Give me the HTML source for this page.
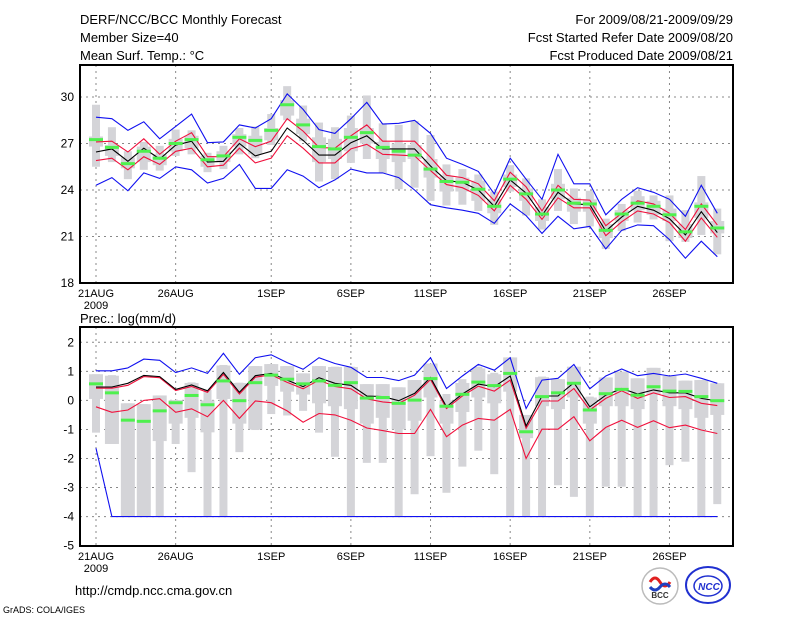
<!DOCTYPE html>
<html><head><meta charset="utf-8"><style>
body{margin:0;background:#fff;}
svg{display:block;font-family:"Liberation Sans",sans-serif;}
</style></head><body>
<svg id="chart" width="800" height="618" viewBox="0 0 800 618" xmlns="http://www.w3.org/2000/svg">
<g font-size="13" fill="#000">
<text x="80" y="24">DERF/NCC/BCC Monthly Forecast</text>
<text x="80" y="42">Member Size=40</text>
<text x="80" y="60">Mean Surf. Temp.: °C</text>
<text x="733" y="24" text-anchor="end">For 2009/08/21-2009/09/29</text>
<text x="733" y="42" text-anchor="end">Fcst Started Refer Date 2009/08/20</text>
<text x="733" y="60" text-anchor="end">Fcst Produced Date 2009/08/21</text>
<text x="80" y="323">Prec.: log(mm/d)</text>
<text x="75" y="595">http://cmdp.ncc.cma.gov.cn</text>
<text x="3" y="613" font-size="9">GrADS: COLA/IGES</text>
</g>
<g id="top"></g>
<g id="bot"></g>
<g>
<circle cx="660" cy="586" r="18" fill="#fff" stroke="#bbb" stroke-width="1.5"/>
<path d="M650 582 q5 -8 10 0 q5 8 10 0" stroke="#e02020" stroke-width="3" fill="none"/>
<path d="M650 587 q5 6 10 0 q5 -6 10 0" stroke="#2040c0" stroke-width="3" fill="none"/>
<text x="660" y="598" font-size="8" font-weight="bold" text-anchor="middle" fill="#333">BCC</text>
</g>
<g>
<ellipse cx="708" cy="585" rx="22" ry="18" fill="#fff" stroke="#2030d0" stroke-width="2"/>
<ellipse cx="708" cy="586" rx="14" ry="10" fill="none" stroke="#2030d0" stroke-width="1.5"/>
<text x="709" y="590" font-size="10" font-weight="bold" font-style="italic" text-anchor="middle" fill="#2030d0">NCC</text>
</g>
</svg>
<script>
const days = 40;
const tBlueHi=[28.7,28.6,27.85,28.4,27.3,28.1,28.9,27.05,27.1,28.2,28.0,28.6,30.2,29.2,27.9,27.65,28.6,29.65,28.25,28.3,28.5,27.65,26.05,25.65,25.2,23.75,26.05,24.7,23.4,26.3,24.4,24.4,22.4,23.4,24.15,23.85,23.4,22.3,24.3,22.5];
const tBlueLo=[24.3,24.8,23.95,25.1,24.75,25.5,25.3,24.45,24.75,25.65,24.1,24.1,25.3,24.9,24.15,24.65,25.35,25.1,25.1,24.8,24.0,23.05,22.85,22.7,22.5,21.85,23.1,22.35,21.2,22.3,21.5,21.65,20.2,21.4,21.75,21.7,20.8,19.6,20.7,19.7];
const tRedHi=[27.1,27.15,26.45,27.3,26.3,27.15,27.7,26.15,26.15,27.3,26.8,27.15,28.6,27.8,26.75,26.7,27.5,28.2,27.15,27.15,27.15,26.1,24.95,24.8,24.4,23.3,25.15,24.2,22.65,24.3,23.4,23.35,21.7,22.5,23.3,23.1,22.5,21.45,23.1,21.75];
const tRedLo=[25.9,26.05,25.3,26.15,25.65,26.5,26.7,25.5,25.6,26.7,25.75,26.05,27.5,26.7,25.75,25.75,26.65,26.95,26.3,26.25,26.2,25.25,24.35,24.15,23.65,22.65,24.3,23.4,22.1,23.5,22.85,22.85,21.05,21.95,22.65,22.45,21.9,20.7,22.2,20.95];
const tMean=[26.45,26.65,25.85,26.7,26.0,26.9,27.15,25.8,25.85,27.0,26.2,26.5,28.0,27.2,26.25,26.25,27.05,27.5,26.65,26.65,26.65,25.55,24.6,24.5,24.0,22.95,24.65,23.8,22.35,23.85,23.1,23.05,21.35,22.25,22.95,22.7,22.15,21.1,22.6,21.25];
const tGreen=[27.25,26.75,25.7,26.5,26.05,27.0,27.25,25.95,26.2,27.4,27.2,27.85,29.5,28.2,26.8,26.65,27.4,27.7,26.75,26.5,26.25,25.35,24.55,24.5,24.05,22.95,24.7,23.75,22.45,24.0,23.15,23.1,21.4,22.45,23.15,22.95,22.4,21.3,22.95,21.55];
const tOutHi=[29.5,28.05,26.5,27.1,26.85,27.9,27.85,26.4,26.85,28.0,28.1,28.9,30.7,29.45,28.35,28.05,28.8,30.1,28.3,28.2,28.45,27.55,25.65,25.35,25.0,23.9,25.6,24.75,23.4,25.35,24.1,23.95,22.15,23.1,23.95,23.65,23.65,22.7,24.9,22.8];
const tOutLo=[25.5,25.8,24.7,25.3,25.25,26.2,26.3,25.15,25.35,26.3,26.05,26.9,28.5,27.15,24.55,24.7,25.75,26.0,25.1,24.05,24.15,23.3,23.0,23.05,22.65,21.75,23.9,22.35,21.45,22.65,21.8,21.65,20.2,21.35,21.9,22.1,20.7,20.65,21.1,19.85];
const tInHi=[27.45,26.9,26.1,26.8,26.3,27.3,27.5,26.2,26.5,27.6,27.5,28.0,29.8,28.6,27.4,27.3,28.0,28.0,27.1,27.0,26.9,26.0,24.9,24.8,24.6,23.4,25.0,24.1,22.9,24.4,23.5,23.4,21.8,22.7,23.6,23.3,22.8,21.8,23.2,22.0];
const tInLo=[26.8,26.2,25.4,25.8,25.6,26.5,26.7,25.5,25.8,26.8,26.3,27.2,28.8,27.6,25.8,26.0,26.5,27.0,26.0,25.8,26.0,24.8,23.9,23.9,23.3,22.5,24.2,23.3,22.0,23.4,22.6,22.6,20.9,22.0,22.7,22.4,22.0,20.9,22.2,21.2];
const tTicks=[18,21,24,27,30];

const pBlueHi=[1.02,1.02,1.12,1.42,1.38,0.96,1.12,0.93,1.62,0.9,1.47,1.57,1.3,1.07,1.47,1.27,1.14,0.79,0.79,0.68,0.87,1.47,0.41,0.84,1.24,1.04,1.47,-0.28,0.7,0.76,1.24,0.4,0.84,1.08,0.85,0.93,0.84,0.91,0.76,0.59];
const pBlueLo=[-1.65,-4,-4,-4,-4,-4,-4,-4,-4,-4,-4,-4,-4,-4,-4,-4,-4,-4,-4,-4,-4,-4,-4,-4,-4,-4,-4,-4,-4,-4,-4,-4,-4,-4,-4,-4,-4,-4,-4,-4];
const pRedHi=[0.42,0.42,0.52,0.82,0.78,0.34,0.48,0.28,0.9,0.22,0.8,0.88,0.62,0.4,0.7,0.48,0.4,0.05,-0.05,-0.1,0.18,0.72,-0.28,0.15,0.49,0.32,0.7,-0.96,-0.02,-0.02,0.41,-0.33,0.07,0.33,0.07,0.26,0.1,0.13,-0.1,-0.18];
const pRedLo=[-0.22,-0.41,-0.33,0.0,0.06,-0.41,-0.29,-0.56,0.0,-0.62,-0.02,-0.08,-0.36,-0.75,-0.45,-0.5,-0.68,-0.95,-1.04,-1.14,-1.14,-0.31,-1.25,-0.85,-0.62,-0.68,-0.31,-2.0,-0.99,-0.99,-0.56,-1.39,-0.93,-0.68,-0.93,-0.7,-0.94,-0.85,-1.02,-1.14];
const pMean=[0.46,0.46,0.59,0.86,0.82,0.38,0.53,0.33,0.96,0.28,0.85,0.93,0.7,0.47,0.78,0.59,0.52,0.15,0.13,-0.01,0.24,0.79,-0.22,0.22,0.56,0.47,0.84,-0.88,0.15,0.15,0.61,-0.22,0.18,0.41,0.22,0.36,0.26,0.26,0.07,-0.02];
const pGreen=[0.57,0.26,-0.68,-0.72,-0.36,-0.08,0.17,-0.15,0.67,-0.01,0.61,0.87,0.73,0.57,0.67,0.52,0.61,0.08,0.1,-0.1,0.01,0.75,-0.2,0.21,0.63,0.51,0.93,-1.08,0.13,0.26,0.59,-0.33,0.23,0.38,0.18,0.47,0.32,0.31,0.13,-0.01];
const pOutHi=[0.9,0.87,-0.1,-0.13,0.17,0.01,0.62,0.36,1.22,0.61,1.18,1.25,1.18,0.93,1.18,1.16,1.16,0.56,0.56,0.45,0.7,1.27,0.22,0.73,1.16,0.95,1.48,-0.54,0.82,0.73,1.16,0.13,0.79,0.99,0.76,1.12,0.84,0.68,0.7,0.59];
const pOutLo=[-1.11,-1.5,-4,-4,-4,-1.5,-2.47,-4,-4,-1.78,-1.02,-0.47,-0.52,-0.36,-1.11,-1.94,-4,-2.15,-2.15,-4,-3.23,-1.92,-3.18,-2.28,-1.73,-2.54,-4,-4,-4,-2.92,-3.32,-4,-2.97,-2.97,-4,-4,-2.23,-2.11,-4,-3.57];
const pInHi=[0.9,0.85,-0.1,-0.13,0.17,0.01,0.6,0.0,1.2,0.6,1.18,1.25,1.18,0.93,1.18,1.15,1.15,0.56,0.56,0.45,0.7,1.27,0.0,0.6,1.1,0.9,1.48,-0.5,0.8,0.73,1.16,0.1,0.79,0.99,0.76,1.12,0.84,0.68,0.7,0.59];
const pInLo=[0.05,-1.5,-4,-4,-1.4,-0.8,-0.6,-1.1,0.05,-0.8,-1.0,0.5,0.3,0.2,-0.1,-0.2,-0.3,-0.8,-0.6,-1.0,-0.7,0.1,-0.8,-0.4,0.1,-0.1,0.3,-1.3,-0.2,-0.3,0.1,-0.8,-0.2,-0.2,-0.3,0.2,-0.2,-0.3,-0.6,-0.5];
const pTicks=[-5,-4,-3,-2,-1,0,1,2];

const xLabelDays=[0,5,11,16,21,26,31,36];
const xLabels=["21AUG","26AUG","1SEP","6SEP","11SEP","16SEP","21SEP","26SEP"];

const NS="http://www.w3.org/2000/svg";
function mk(tag,attrs,parent){const e=document.createElementNS(NS,tag);for(const k in attrs)e.setAttribute(k,attrs[k]);parent.appendChild(e);return e;}
function X(d){return 96+d*15.93;}

function panel(g,top,bottom,Y,ticks,d){
  const L=80,R=733;
  // grid
  ticks.forEach(t=>{
    const y=Y(t);
    if(y>top+1&&y<bottom-1){
      const ln=mk('line',{x1:L,x2:R,y1:y,y2:y,stroke:'#888','stroke-dasharray':'2,4','stroke-width':1},g);
      
      
    }
    const tx=mk('text',{x:L-6,y:y+4,'text-anchor':'end','font-size':12},g);
    tx.textContent=t;
    
    
  });
  xLabelDays.forEach((dd,i)=>{
    const x=X(dd);
    const ln=mk('line',{x1:x,x2:x,y1:top,y2:bottom,stroke:'#888','stroke-dasharray':'2,4','stroke-width':1},g);
    
    
    const tx=mk('text',{x:x,y:bottom+14,'text-anchor':'middle','font-size':11},g);
    tx.textContent=xLabels[i];
    
    
  });
  const yr=mk('text',{x:X(0),y:bottom+26,'text-anchor':'middle','font-size':11},g);
  yr.textContent='2009';
  
  
  // boxes
  for(let i=0;i<days;i++){
    const x=X(i);
    const b1=mk('rect',{x:x-4,y:Y(d.outHi[i]),width:8,height:Math.max(1,Y(d.outLo[i])-Y(d.outHi[i])),fill:'#d4d4d8'},g);
    
    
    const b2=mk('rect',{x:x-7,y:Y(d.inHi[i]),width:14,height:Math.max(1,Y(d.inLo[i])-Y(d.inHi[i])),fill:'#d4d4d8'},g);
    
    
  }
  function line(arr,color,name){
    const p=arr.map((v,i)=>X(i).toFixed(1)+','+Y(v).toFixed(1)).join(' ');
    const pl=mk('polyline',{points:p,fill:'none',stroke:color,'stroke-width':1.1},g);
    
    
  }
  line(d.blueHi,'#1010f0','upper-bound-line');
  line(d.blueLo,'#1010f0','lower-bound-line');
  line(d.redHi,'#f0103c','upper-spread-line');
  line(d.redLo,'#f0103c','lower-spread-line');
  line(d.mean,'#000','ensemble-mean-line');
  for(let i=0;i<days;i++){
    const gm=mk('rect',{x:X(i)-7,y:Y(d.green[i])-1.5,width:14,height:3,fill:'#4ef04e'},g);
    
    
  }
  const fr=mk('rect',{x:L,y:top,width:R-L,height:bottom-top,fill:'none',stroke:'#000','stroke-width':2},g);
  
  
}
const gt=document.getElementById('top');


panel(gt,65,283,v=>283-(v-18)*15.5,tTicks,{blueHi:tBlueHi,blueLo:tBlueLo,redHi:tRedHi,redLo:tRedLo,mean:tMean,green:tGreen,outHi:tOutHi,outLo:tOutLo,inHi:tInHi,inLo:tInLo});
const gb=document.getElementById('bot');


panel(gb,327,546,v=>400.4-v*29.05,pTicks,{blueHi:pBlueHi,blueLo:pBlueLo,redHi:pRedHi,redLo:pRedLo,mean:pMean,green:pGreen,outHi:pOutHi,outLo:pOutLo,inHi:pInHi,inLo:pInLo});
</script>
</body></html>
